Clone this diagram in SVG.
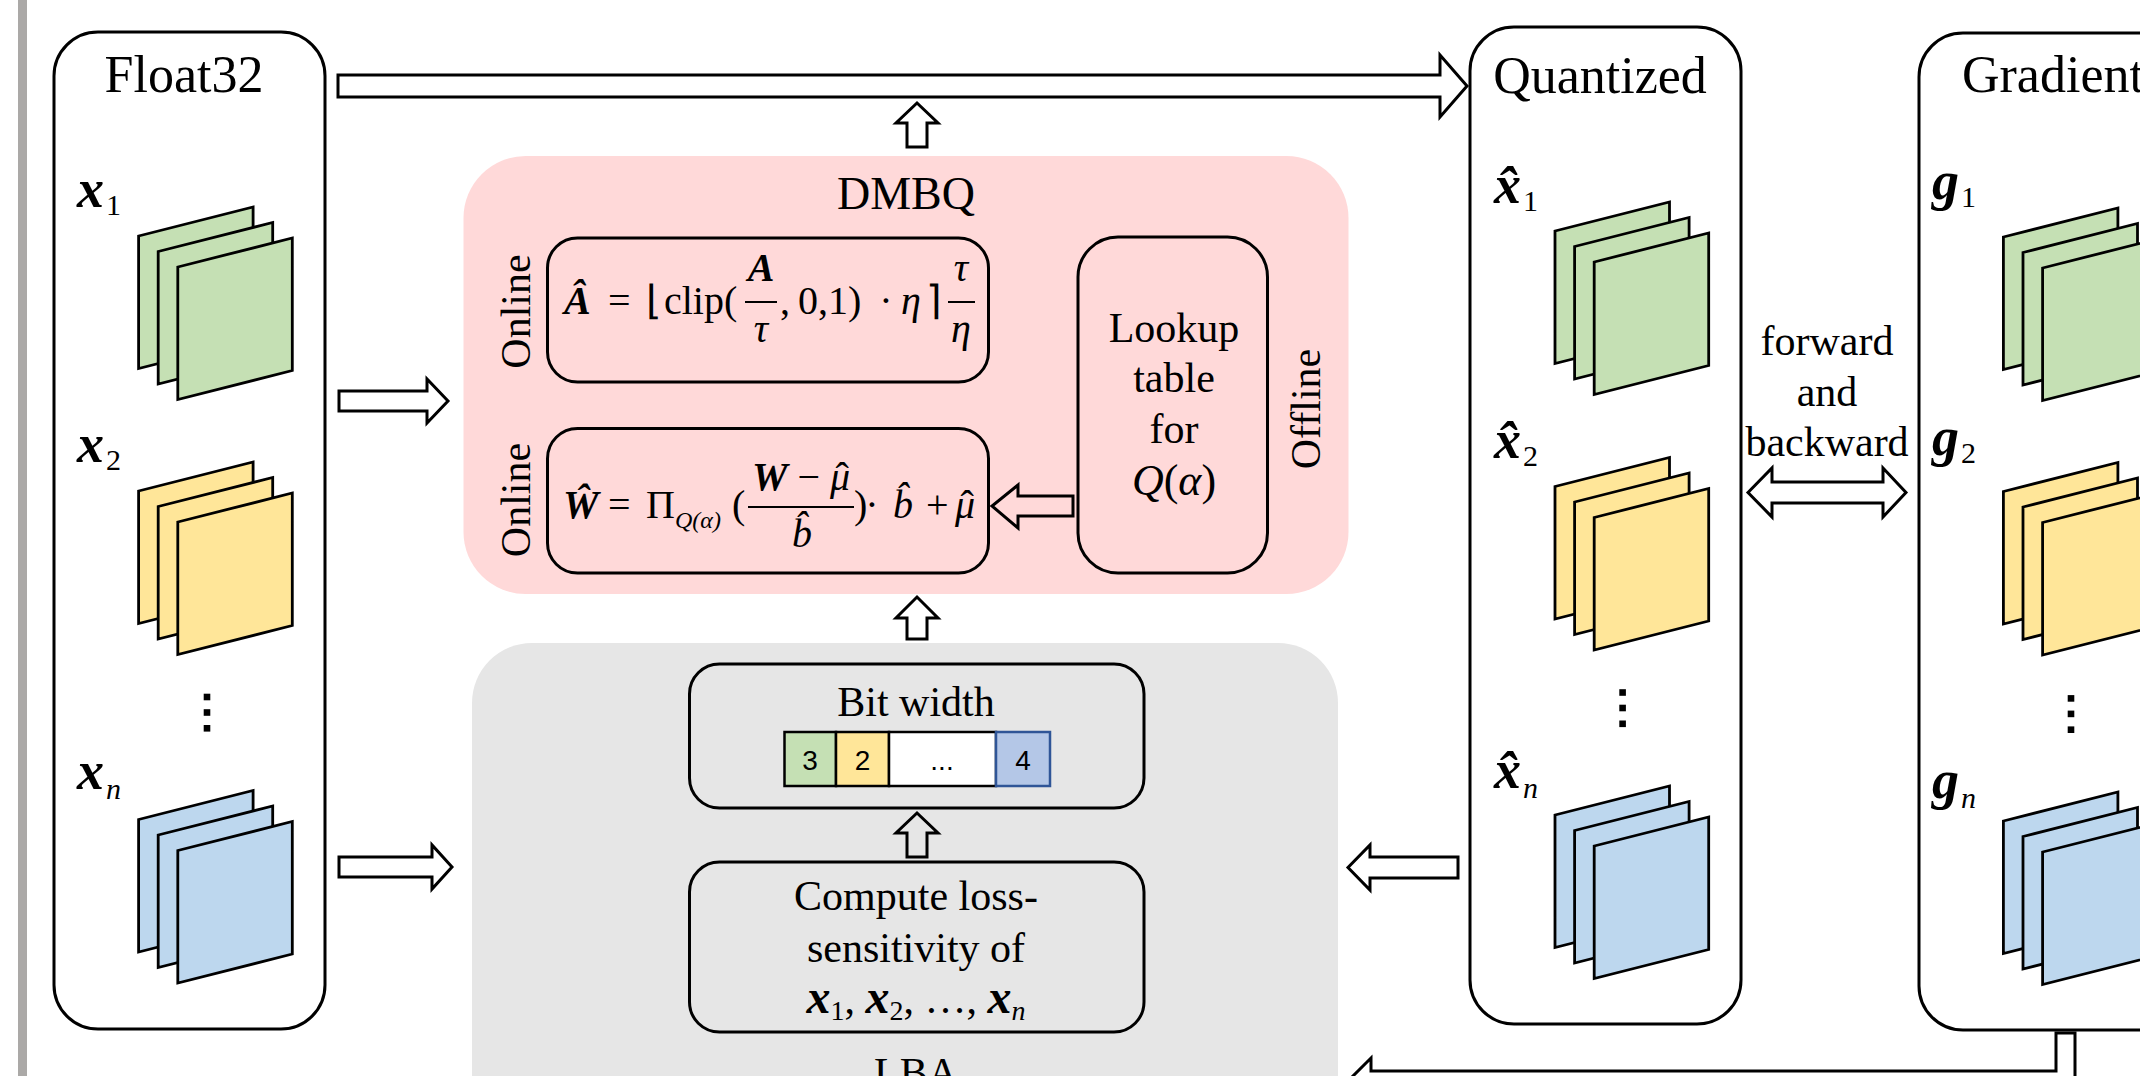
<svg xmlns="http://www.w3.org/2000/svg" xmlns:xlink="http://www.w3.org/1999/xlink" width="2140" height="1076" viewBox="0 0 2140 1076">
<style>
.t{font-family:"Liberation Serif","Times New Roman",serif;fill:#000}
.title{font-size:52px}
.body{font-size:42px}
.lbl{font-family:"Liberation Serif","Times New Roman",serif;font-size:54px;font-weight:bold;font-style:italic}
.sub{font-size:30px;font-weight:normal;font-style:normal}
.subi{font-size:30px;font-weight:normal;font-style:italic}
.f{font-family:"Liberation Serif","Times New Roman",serif;font-size:40px}
.fs{font-family:"Liberation Serif","Times New Roman",serif;font-size:24px;font-style:italic}
.it{font-style:italic}
.up{font-style:normal;font-weight:normal}
.bi{font-style:italic;font-weight:bold}
.box{fill:#fff;stroke:#000;stroke-width:3}
.ibox{fill:none;stroke:#000;stroke-width:3}
.arrow{fill:none;stroke:#000;stroke-width:3;stroke-linejoin:miter}
.pg polygon{stroke:#000;stroke-width:2.8;stroke-linejoin:miter}
.cell{stroke:#000;stroke-width:2.5}
.num{font-family:"Liberation Sans",Arial,sans-serif;font-size:28px}
</style>
<defs>
<g id="pages" class="pg">
<polygon points="0,0 114.5,-29 114.5,103.5 0,132.5"/>
<polygon points="19.6,15.5 134.1,-13.5 134.1,119 19.6,148"/>
<polygon points="39.2,31 153.7,2 153.7,134.5 39.2,163.5"/>
</g>
<g id="dots">
<rect x="-3.3" y="-3.3" width="6.6" height="6.6"/>
<rect x="-3.3" y="12.2" width="6.6" height="6.6"/>
<rect x="-3.3" y="28" width="6.6" height="6.6"/>
</g>
</defs>
<rect x="18" y="0" width="9" height="1076" fill="#aba9a7"/>

<g id="float32">
<rect class="box" x="54" y="32" width="271" height="997" rx="44"/>
<text class="t title" x="184" y="92" text-anchor="middle">Float32</text>
<text class="lbl" x="77" y="207">x<tspan class="sub" dx="2" dy="8">1</tspan></text>
<use xlink:href="#pages" x="138.6" y="236" fill="#C5E0B4"/>
<text class="lbl" x="77" y="462">x<tspan class="sub" dx="2" dy="8">2</tspan></text>
<use xlink:href="#pages" x="138.6" y="491" fill="#FFE699"/>
<use xlink:href="#dots" x="207" y="697"/>
<text class="lbl" x="77" y="789">x<tspan class="subi" dx="2" dy="10">n</tspan></text>
<use xlink:href="#pages" x="138.6" y="819.5" fill="#BDD7EE"/>
</g>

<g id="quantized">
<rect class="box" x="1470" y="27" width="271" height="997" rx="44"/>
<text class="t title" x="1600" y="93" text-anchor="middle">Quantized</text>
<text class="lbl" x="1494" y="203">x̂<tspan class="sub" dx="2" dy="8">1</tspan></text>
<use xlink:href="#pages" x="1555" y="231" fill="#C5E0B4"/>
<text class="lbl" x="1494" y="458">x̂<tspan class="sub" dx="2" dy="8">2</tspan></text>
<use xlink:href="#pages" x="1555" y="486.5" fill="#FFE699"/>
<use xlink:href="#dots" x="1622.6" y="692.5"/>
<text class="lbl" x="1494" y="788">x̂<tspan class="subi" dx="2" dy="10">n</tspan></text>
<use xlink:href="#pages" x="1555" y="815" fill="#BDD7EE"/>
</g>

<g id="gradient">
<rect class="box" x="1919" y="33" width="271" height="997" rx="44"/>
<text class="t title" x="1962" y="92">Gradient</text>
<text class="lbl" x="1932" y="199">g<tspan class="sub" dx="2" dy="8">1</tspan></text>
<use xlink:href="#pages" x="2003.4" y="237" fill="#C5E0B4"/>
<text class="lbl" x="1932" y="455">g<tspan class="sub" dx="2" dy="8">2</tspan></text>
<use xlink:href="#pages" x="2003.4" y="491.5" fill="#FFE699"/>
<use xlink:href="#dots" x="2071" y="698.4"/>
<text class="lbl" x="1932" y="798">g<tspan class="subi" dx="2" dy="10">n</tspan></text>
<use xlink:href="#pages" x="2003.4" y="821" fill="#BDD7EE"/>
</g>

<g id="dmbq">
<rect x="463.5" y="156" width="885" height="438" rx="62" fill="#FFD9D9"/>
<text class="t" font-size="46" x="906" y="209" text-anchor="middle">DMBQ</text>
<text class="t body" transform="translate(530,311.5) rotate(-90)" text-anchor="middle">Online</text>
<text class="t body" transform="translate(530,500) rotate(-90)" text-anchor="middle">Online</text>
<text class="t body" transform="translate(1320,409) rotate(-90)" text-anchor="middle">Offline</text>
</g>

<g id="formula-a">
<rect class="ibox" x="547.5" y="238" width="441" height="144" rx="30"/>
<text class="f bi" x="564" y="314">Â</text>
<text class="f" x="608" y="314">=</text>
<text class="f" x="646" y="314">⌊</text>
<text class="f" x="664" y="314">clip(</text>
<text class="f bi" x="761" y="281" text-anchor="middle">A</text>
<line x1="745" y1="302" x2="777" y2="302" stroke="#000" stroke-width="2"/>
<text class="f it" x="761" y="342" text-anchor="middle">τ</text>
<text class="f" x="780" y="314">,</text>
<text class="f" x="798" y="314">0,1)</text>
<text class="f" x="886" y="314" text-anchor="middle">·</text>
<text class="f it" x="901" y="314">η</text>
<text class="f" x="926" y="314">⌉</text>
<text class="f it" x="961" y="281" text-anchor="middle">τ</text>
<line x1="948" y1="302" x2="975" y2="302" stroke="#000" stroke-width="2"/>
<text class="f it" x="961" y="342" text-anchor="middle">η</text>
</g>

<g id="formula-w">
<rect class="ibox" x="547.5" y="428.5" width="441" height="144.5" rx="30"/>
<text class="f bi" x="563" y="518">Ŵ</text>
<text class="f" x="608" y="518">=</text>
<text class="f" x="646" y="518">Π</text>
<text class="fs" x="675" y="528">Q(α)</text>
<text class="f" x="732" y="518">(</text>
<text class="f" x="801" y="490" text-anchor="middle"><tspan class="bi">W</tspan> − <tspan class="it">μ</tspan><tspan class="up" dx="-14.5">ˆ</tspan></text>
<line x1="748" y1="507" x2="854" y2="507" stroke="#000" stroke-width="2"/>
<text class="f it" x="802" y="547" text-anchor="middle">b̂</text>
<text class="f" x="854" y="518">)</text>
<text class="f" x="872" y="518" text-anchor="middle">·</text>
<text class="f it" x="893" y="518">b̂</text>
<text class="f" x="926" y="518">+</text>
<text class="f it" x="955" y="518">μ<tspan class="up" dx="-14.5">ˆ</tspan></text>
</g>

<g id="lookup">
<rect class="ibox" x="1078" y="237" width="189.5" height="336" rx="40"/>
<text class="t body" x="1174" y="342" text-anchor="middle">Lookup</text>
<text class="t body" x="1174" y="392" text-anchor="middle">table</text>
<text class="t body" x="1174" y="443" text-anchor="middle">for</text>
<text class="t" font-size="44" x="1174" y="495" text-anchor="middle"><tspan class="it">Q</tspan>(<tspan class="it">α</tspan>)</text>
</g>

<g id="lba">
<rect x="472" y="643" width="866" height="520" rx="60" fill="#E6E6E6"/>
<text class="t body" x="916" y="1087" text-anchor="middle">LBA</text>
</g>

<g id="bitwidth">
<rect class="ibox" x="689.5" y="664" width="454.5" height="144" rx="30"/>
<text class="t body" x="916" y="716" text-anchor="middle">Bit width</text>
<rect class="cell" x="784.5" y="732" width="51.5" height="54" fill="#C5E0B4"/>
<rect class="cell" x="836" y="732" width="53" height="54" fill="#FFE699"/>
<rect class="cell" x="889" y="732" width="107" height="54" fill="#FFFFFF"/>
<rect x="996" y="732" width="54" height="54" fill="#B4C7E7" stroke="#2F5597" stroke-width="2.5"/>
<text class="num" x="810" y="770" text-anchor="middle">3</text>
<text class="num" x="862.5" y="770" text-anchor="middle">2</text>
<text class="num" x="942" y="770" text-anchor="middle">...</text>
<text class="num" x="1023" y="770" text-anchor="middle">4</text>
</g>

<g id="compute">
<rect class="ibox" x="689.5" y="862" width="454.5" height="170" rx="30"/>
<text class="t body" x="916" y="910" text-anchor="middle">Compute loss-</text>
<text class="t body" x="916" y="962" text-anchor="middle">sensitivity of</text>
<text class="t body" x="916" y="1013" text-anchor="middle"><tspan class="bi" font-size="48">x</tspan><tspan font-size="28" dy="7">1</tspan><tspan dy="-7">, </tspan><tspan class="bi" font-size="48">x</tspan><tspan font-size="28" dy="7">2</tspan><tspan dy="-7">, …, </tspan><tspan class="bi" font-size="48">x</tspan><tspan class="it" font-size="28" dy="7">n</tspan></text>
</g>

<g id="fwdbwd">
<text class="t body" x="1827" y="355" text-anchor="middle">forward</text>
<text class="t body" x="1827" y="406" text-anchor="middle">and</text>
<text class="t body" x="1827" y="456" text-anchor="middle">backward</text>
</g>

<g id="connectors">
<polygon class="arrow" points="338,75 1440,75 1440,55 1467,86 1440,117 1440,97 338,97"/>
<polygon class="arrow" points="339,391 427,391 427,379 448,401 427,423 427,411 339,411"/>
<polygon class="arrow" points="339,857 432,857 432,845 452,867 432,889 432,877 339,877"/>
<polygon class="arrow" points="1458,857 1370,857 1370,845 1348,867.5 1370,890 1370,878 1458,878"/>
<polygon class="arrow" points="907,147 907,123 896,123 917,103 938,123 927,123 927,147"/>
<polygon class="arrow" points="907,639 907,618 896,618 917,597 938,618 927,618 927,639"/>
<polygon class="arrow" points="907,857 907,833 896,833 917,813 938,833 927,833 927,857"/>
<polygon class="arrow" points="1073,496 1018,496 1018,485 992,506 1018,528 1018,516 1073,516"/>
<polygon class="arrow" points="1748,492.5 1772,468 1772,482 1883,482 1883,468 1906,492.5 1883,517 1883,503 1772,503 1772,517"/>
<polygon class="arrow" points="2056,1033 2075,1033 2075,1091 1371,1091 1371,1104 1348,1081 1371,1058 1371,1071 2056,1071"/>
</g>
</svg>
